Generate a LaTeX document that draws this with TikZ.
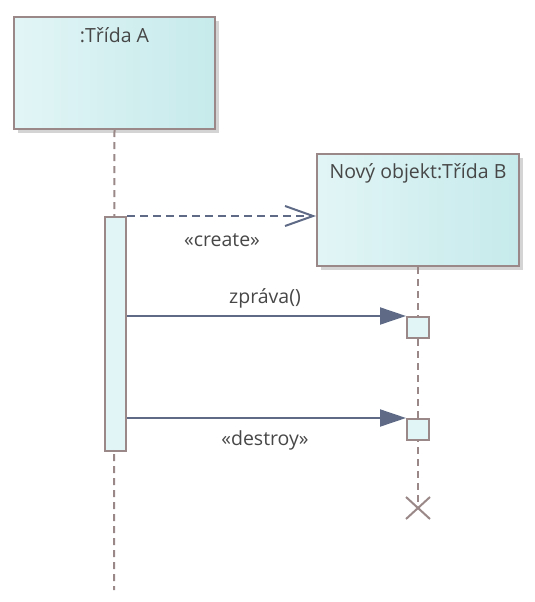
\documentclass[tikz,border=0pt]{standalone}
\usepackage{fontspec}
\setmainfont{Open Sans}
\usetikzlibrary{arrows.meta,shadows}
\definecolor{bord}{HTML}{9A8888}
\definecolor{fillL}{HTML}{E2F5F6}
\definecolor{fillR}{HTML}{C6EAEB}
\definecolor{arr}{HTML}{5E6A86}
\definecolor{txt}{HTML}{474747}
\definecolor{shad}{HTML}{D4D4D4}
\begin{document}
\begin{tikzpicture}[x=1pt,y=-1pt,
  lifebox/.style={draw=bord,line width=2pt,left color=fillL,right color=fillR,
    minimum width=201pt,minimum height=112pt,inner sep=0pt,anchor=north west},
  actbar/.style={draw=bord,line width=2pt,fill=fillL,inner sep=0pt,anchor=north west},
  lifeline/.style={draw=bord,line width=2pt,dash pattern=on 7pt off 5pt},
  msg/.style={draw=arr,line width=2pt,-{Triangle[length=26pt,width=17pt]}},
  createmsg/.style={draw=arr,line width=2pt,dash pattern=on 8pt off 5pt,
    -{Straight Barb[length=28pt,width=20pt,line width=2pt]}},
  lbl/.style={text=txt,font=\fontsize{19.5}{22}\selectfont,inner sep=0pt}]
\useasboundingbox (0,0) rectangle (535,602);
% shadows
\fill[shad] (18,21) rectangle (219,133);
\fill[shad] (321,158) rectangle (523,270);
% lifelines
\coordinate (aend) at (114,590);
\coordinate (bend) at (418,508);
\node[lifebox] (A) at (13,16) {};
\node[lifebox,minimum width=202pt] (B) at (316,153) {};
\node[lbl,anchor=north] at ([yshift=-11pt]A.north) {:Třída A};
\node[lbl,anchor=north] at ([yshift=-10pt]B.north) {Nový objekt:Třída B};
\draw[lifeline] (A.south) -- (aend);
\draw[lifeline] (B.south) -- (bend);
% activation bars
\node[actbar,minimum width=21pt,minimum height=234pt] (actA) at (104,216) {};
\node[actbar,minimum width=22pt,minimum height=21pt] (act1) at (406,316) {};
\node[actbar,minimum width=22pt,minimum height=21pt] (act2) at (406,418) {};
% destroy X
\draw[bord,line width=2pt] ([shift={(-12,-11)}]bend) -- ([shift={(12,11)}]bend)
  ([shift={(-12,11)}]bend) -- ([shift={(12,-11)}]bend);
% messages
\coordinate (cs) at (actA.north east);
\draw[createmsg] (cs) -- (cs -| B.west);
\node[lbl] at (222,240) {«create»};
\draw[msg] (actA.east |- act1.north west) -- (act1.north west);
\node[lbl] at (265,298) {zpráva()};
\draw[msg] (actA.east |- act2.north west) -- (act2.north west);
\node[lbl] at (265,440) {«destroy»};
\end{tikzpicture}
\end{document}
